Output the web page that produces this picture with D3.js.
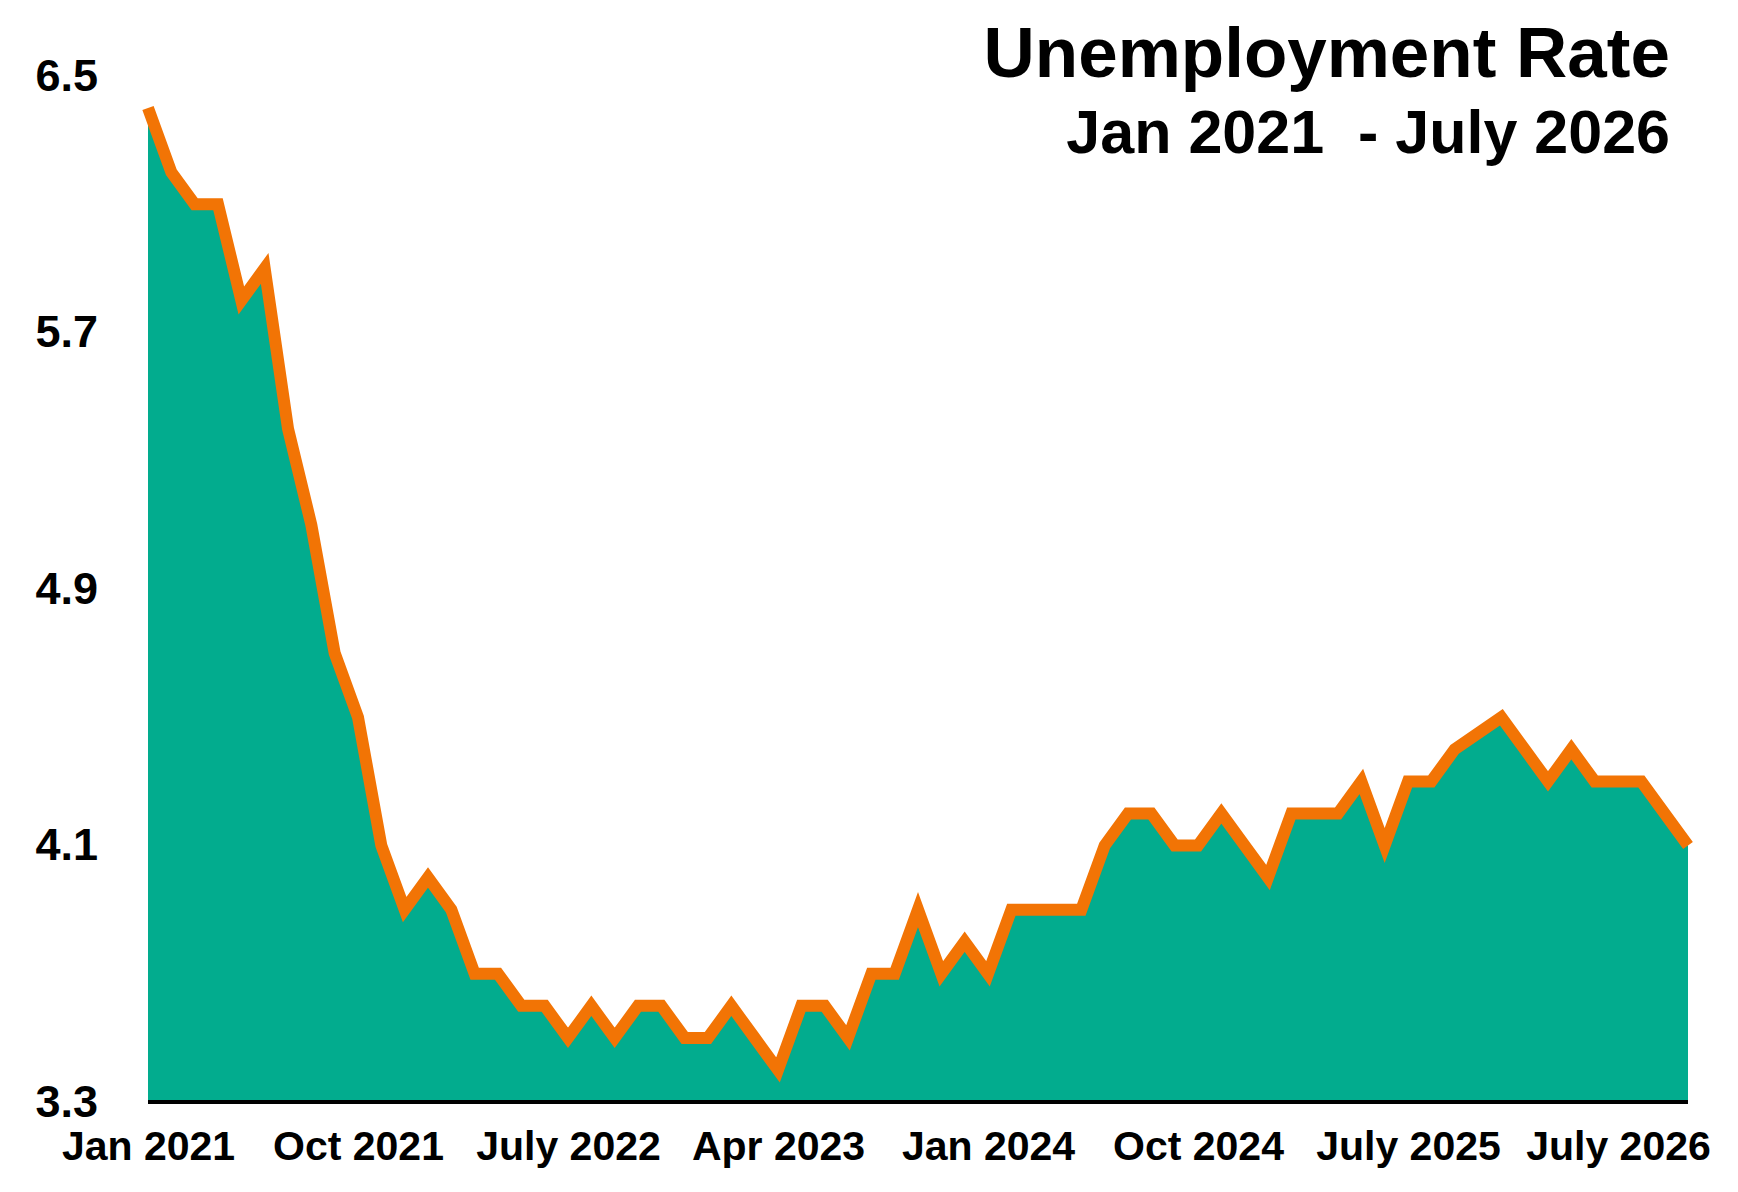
<!DOCTYPE html>
<html>
<head>
<meta charset="utf-8">
<script src="https://cdn.jsdelivr.net/npm/d3@7"></script>
<style>
    body { margin: 0; background: #fff; }
    text { font-family: "Helvetica Neue", Helvetica, Arial, "Liberation Sans", sans-serif; font-weight: bold; fill: #000; }
</style>
</head>
<body>
<div id="chart"></div>
<script>
// Monthly unemployment rate, Jan 2021 onwards (null = month not published)
const startYear = 2021;
const rates = [
    6.4, 6.2, 6.1, 6.1, 5.8, 5.9, 5.4, 5.1, 4.7, 4.5, 4.1, 3.9,
    4.0, 3.9, 3.7, 3.7, 3.6, 3.6, 3.5, 3.6, 3.5, 3.6, 3.6, 3.5,
    3.5, 3.6, 3.5, 3.4, 3.6, 3.6, 3.5, 3.7, 3.7, 3.9, 3.7, 3.8,
    3.7, 3.9, 3.9, 3.9, 3.9, 4.1, 4.2, 4.2, 4.1, 4.1, 4.2, 4.1,
    4.0, 4.2, 4.2, 4.2, 4.3, 4.1, 4.3, 4.3, 4.4, null, 4.5, 4.4,
    4.3, 4.4, 4.3, 4.3, 4.3, 4.2, 4.1
];

// x axis labels and the month index they sit under
const tickIndex = [0, 9, 18, 27, 36, 45, 54, 63];
const tickLabels = ["Jan 2021", "Oct 2021", "July 2022", "Apr 2023", "Jan 2024", "Oct 2024", "July 2025", "July 2026"];

const yTicks = [3.3, 4.1, 4.9, 5.7, 6.5];

const titleText = "Unemployment Rate";
const subtitleText = "Jan 2021  - July 2026";

const W = 1738, H = 1192;
const margin = { top: 76, right: 50, bottom: 90, left: 148 };

const data = rates.map((v, i) => ({ i: i, value: v }))
    .filter(d => d.value !== null);

const svg = d3.select("#chart").append("svg")
    .attr("width", W)
    .attr("height", H);

// X scale (month index)
const x = d3.scaleLinear()
    .domain([0, rates.length - 1])
    .range([margin.left, W - margin.right]);

// Y scale
const y = d3.scaleLinear()
    .domain([3.3, 6.5])
    .range([H - margin.bottom, margin.top]);

// Filled area
svg.append("path")
    .datum(data)
    .attr("fill", "#02ac8e")
    .attr("d", d3.area()
        .x(d => x(d.i))
        .y0(y(3.3))
        .y1(d => y(d.value)));

// Orange line on top
svg.append("path")
    .datum(data)
    .attr("fill", "none")
    .attr("stroke", "#f27405")
    .attr("stroke-width", 12)
    .attr("stroke-linejoin", "miter")
    .attr("stroke-miterlimit", 10)
    .attr("d", d3.line()
        .x(d => x(d.i))
        .y(d => y(d.value)));

// Baseline
svg.append("line")
    .attr("x1", x(0))
    .attr("x2", x(rates.length - 1))
    .attr("y1", y(3.3))
    .attr("y2", y(3.3))
    .attr("stroke", "#000")
    .attr("stroke-width", 4);

// X axis labels
const xAxis = svg.append("g")
    .attr("transform", `translate(0,${y(3.3)})`)
    .call(d3.axisBottom(x)
        .tickValues(tickIndex)
        .tickFormat((d, k) => tickLabels[k])
        .tickSize(0)
        .tickPadding(0));
xAxis.select(".domain").remove();
xAxis.selectAll("text")
    .attr("dy", null)
    .attr("y", 58)
    .attr("font-size", "41px")
    .attr("fill", "#000");

// Y axis labels
const yAxis = svg.append("g")
    .attr("transform", "translate(98,0)")
    .call(d3.axisLeft(y)
        .tickValues(yTicks)
        .tickFormat(d3.format(".1f"))
        .tickSize(0)
        .tickPadding(0));
yAxis.select(".domain").remove();
yAxis.selectAll("text")
    .attr("font-size", "45px")
    .attr("fill", "#000");

// Title
svg.append("text")
    .attr("x", 1670)
    .attr("y", 77)
    .attr("text-anchor", "end")
    .attr("font-size", "71px")
    .text(titleText);

svg.append("text")
    .attr("x", 1670)
    .attr("y", 153)
    .attr("text-anchor", "end")
    .attr("font-size", "61px")
    .attr("xml:space", "preserve")
    .style("white-space", "pre")
    .text(subtitleText);
</script>
</body>
</html>
